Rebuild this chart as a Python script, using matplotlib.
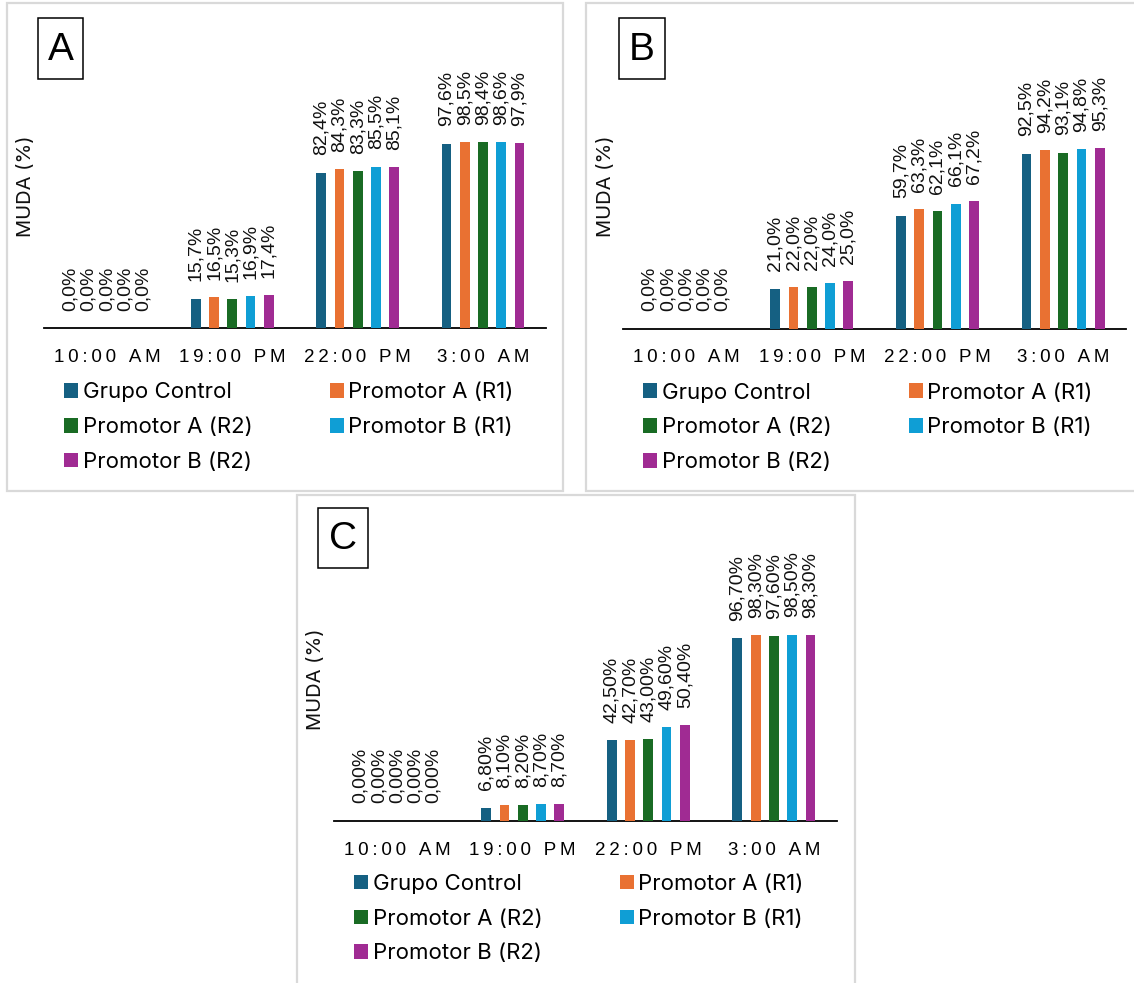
import matplotlib
matplotlib.use("Agg")
import matplotlib.pyplot as plt
from matplotlib.patches import Rectangle, Patch

# ---- data -------------------------------------------------------------
categories = ["10:00 AM", "19:00 PM", "22:00 PM", "3:00 AM"]
series_names = ["Grupo Control", "Promotor A (R1)", "Promotor A (R2)",
                "Promotor B (R1)", "Promotor B (R2)"]
series_colors = ["#156082", "#E97132", "#196B24", "#0F9ED5", "#A02B93"]

# panel A
a_grupo_control = [0.0, 15.7, 82.4, 97.6]
a_promotor_a_r1 = [0.0, 16.5, 84.3, 98.5]
a_promotor_a_r2 = [0.0, 15.3, 83.3, 98.4]
a_promotor_b_r1 = [0.0, 16.9, 85.5, 98.6]
a_promotor_b_r2 = [0.0, 17.4, 85.1, 97.9]

# panel B
b_grupo_control = [0.0, 21.0, 59.7, 92.5]
b_promotor_a_r1 = [0.0, 22.0, 63.3, 94.2]
b_promotor_a_r2 = [0.0, 22.0, 62.1, 93.1]
b_promotor_b_r1 = [0.0, 24.0, 66.1, 94.8]
b_promotor_b_r2 = [0.0, 25.0, 67.2, 95.3]

# panel C
c_grupo_control = [0.00, 6.80, 42.50, 96.70]
c_promotor_a_r1 = [0.00, 8.10, 42.70, 98.30]
c_promotor_a_r2 = [0.00, 8.20, 43.00, 97.60]
c_promotor_b_r1 = [0.00, 8.70, 49.60, 98.50]
c_promotor_b_r2 = [0.00, 8.70, 50.40, 98.30]

# ---- figure geometry (pixels) ------------------------------------------
W, H = 1134, 983
fig = plt.figure(figsize=(W / 100, H / 100), dpi=100)
fig.patch.set_facecolor("white")

PX_PER_UNIT = 1.89      # vertical pixels per percentage point
YMAX = 105
PITCH = 0.1455          # distance between neighbouring bars (category units)
BAR_W = 0.078

LABEL_FONT = ["Liberation Sans", "DejaVu Sans"]
TEXT_FONT = ["Inter", "DejaVu Sans"]


def fx(x):
    return x / W


def fy(y):
    return 1 - y / H


def spaced(s):
    # widen the tracking of the category names
    return "\u2009".join(s)


panels = [
    dict(letter="A",
         series=[a_grupo_control, a_promotor_a_r1, a_promotor_a_r2,
                 a_promotor_b_r1, a_promotor_b_r2],
         decimals=1,
         border=(7, 2.7, 563, 491),
         axis=(44.3, 545.7, 328.3),
         box=(37.7, 18.3, 83.3, 79.3),
         ylab=(26.5, 186),
         legend=(64, 383.3)),
    dict(letter="B",
         series=[b_grupo_control, b_promotor_a_r1, b_promotor_a_r2,
                 b_promotor_b_r1, b_promotor_b_r2],
         decimals=1,
         border=(586, 2.7, 1145, 491),
         axis=(623.3, 1126, 328.5),
         box=(619, 18.3, 665, 79.3),
         ylab=(606, 186),
         legend=(643, 383.5)),
    dict(letter="C",
         series=[c_grupo_control, c_promotor_a_r1, c_promotor_a_r2,
                 c_promotor_b_r1, c_promotor_b_r2],
         decimals=2,
         border=(296.7, 495, 855, 995),
         axis=(334.3, 836.7, 820.7),
         box=(318.3, 508.3, 368, 568.3),
         ylab=(315.5, 679),
         legend=(354, 874.7)),
]

LEG_FS = 16
LEG_FS_PX = LEG_FS * 100 / 72
COL2_DX = 265.5     # horizontal distance between legend columns' markers
ROW_DY = 34.8       # vertical distance between legend rows


def make_legend(anchor_px, cs, ls):
    handles = [Patch(facecolor=c, edgecolor="none") for c in series_colors]
    order = [0, 2, 4, 1, 3]
    leg = fig.legend([handles[i] for i in order],
                     [series_names[i] for i in order],
                     loc="upper left",
                     bbox_to_anchor=(fx(anchor_px[0]), fy(anchor_px[1])),
                     bbox_transform=fig.transFigure,
                     ncol=2, frameon=False, borderpad=0, borderaxespad=0,
                     handlelength=0.63, handleheight=0.63, handletextpad=0.22,
                     columnspacing=cs, labelspacing=ls,
                     prop=dict(family=TEXT_FONT, size=LEG_FS))
    return leg


for p in panels:
    # panel frame
    x0, y0, x1, y1 = p["border"]
    frame = Rectangle((fx(x0), fy(y1)), (x1 - x0) / W, (y1 - y0) / H,
                      transform=fig.transFigure, facecolor="white",
                      edgecolor="#d9d9d9", linewidth=1.6, zorder=-5)
    fig.add_artist(frame)

    # plotting area
    ax0, ax1, base = p["axis"]
    ax = fig.add_axes([fx(ax0), fy(base), (ax1 - ax0) / W,
                       PX_PER_UNIT * YMAX / H])
    ax.set_facecolor("none")
    ax.set_xlim(-0.5, 3.5)
    ax.set_ylim(0, YMAX)
    for side in ("top", "left", "right"):
        ax.spines[side].set_visible(False)
    ax.spines["bottom"].set_color("black")
    ax.spines["bottom"].set_linewidth(1.3)
    ax.set_yticks([])
    ax.set_xticks(range(len(categories)))
    ax.set_xticklabels([spaced(c) for c in categories],
                       fontsize=13.5, family=LABEL_FONT, color="black")
    ax.tick_params(axis="x", length=0, pad=15)

    fmt = "{:." + str(p["decimals"]) + "f}%"
    for j, vals in enumerate(p["series"]):
        xs = [i + (j - 2) * PITCH for i in range(len(categories))]
        ax.bar(xs, vals, width=BAR_W, color=series_colors[j],
               edgecolor="none", zorder=3)
        for xv, v in zip(xs, vals):
            ax.annotate(fmt.format(v).replace(".", ","), (xv, v),
                        xytext=(0, 12.5), textcoords="offset points",
                        rotation=90, ha="center", va="bottom",
                        fontsize=14, family=LABEL_FONT, color="#111111",
                        annotation_clip=False)

    # axis title
    fig.text(fx(p["ylab"][0]), fy(p["ylab"][1]), "MUDA (%)", rotation=90,
             ha="center", va="center", fontsize=14.5, family=TEXT_FONT,
             color="#111111")

    # panel letter in a box
    bx0, by0, bx1, by1 = p["box"]
    fig.add_artist(Rectangle((fx(bx0), fy(by1)), (bx1 - bx0) / W,
                             (by1 - by0) / H, transform=fig.transFigure,
                             facecolor="white", edgecolor="black",
                             linewidth=1.1, zorder=5))
    fig.text(fx((bx0 + bx1) / 2), fy((by0 + by1) / 2 + 1), p["letter"],
             ha="center", va="center", fontsize=28, family=LABEL_FONT,
             color="black", zorder=6)

# legends: first pass measures, second pass places exactly
renderer = fig.canvas.get_renderer()
for p in panels:
    cs, ls = 4.0, 0.5
    target = p["legend"]
    leg = make_legend(target, cs, ls)
    fig.canvas.draw()
    hs = leg.legend_handles
    e0 = hs[0].get_window_extent(renderer)
    e1 = hs[1].get_window_extent(renderer)
    e3 = hs[3].get_window_extent(renderer)
    dx = e3.x0 - e0.x0
    dy = e0.y0 - e1.y0
    cs += (COL2_DX - dx) / LEG_FS_PX
    ls += (ROW_DY - dy) / LEG_FS_PX
    # offset between anchor and first marker top-left corner
    off_x = e0.x0 - target[0]
    off_y = (H - e0.y1) - target[1]
    leg.remove()
    make_legend((target[0] - off_x, target[1] - off_y), cs, ls)

fig.savefig("out.png", dpi=100, facecolor="white")
